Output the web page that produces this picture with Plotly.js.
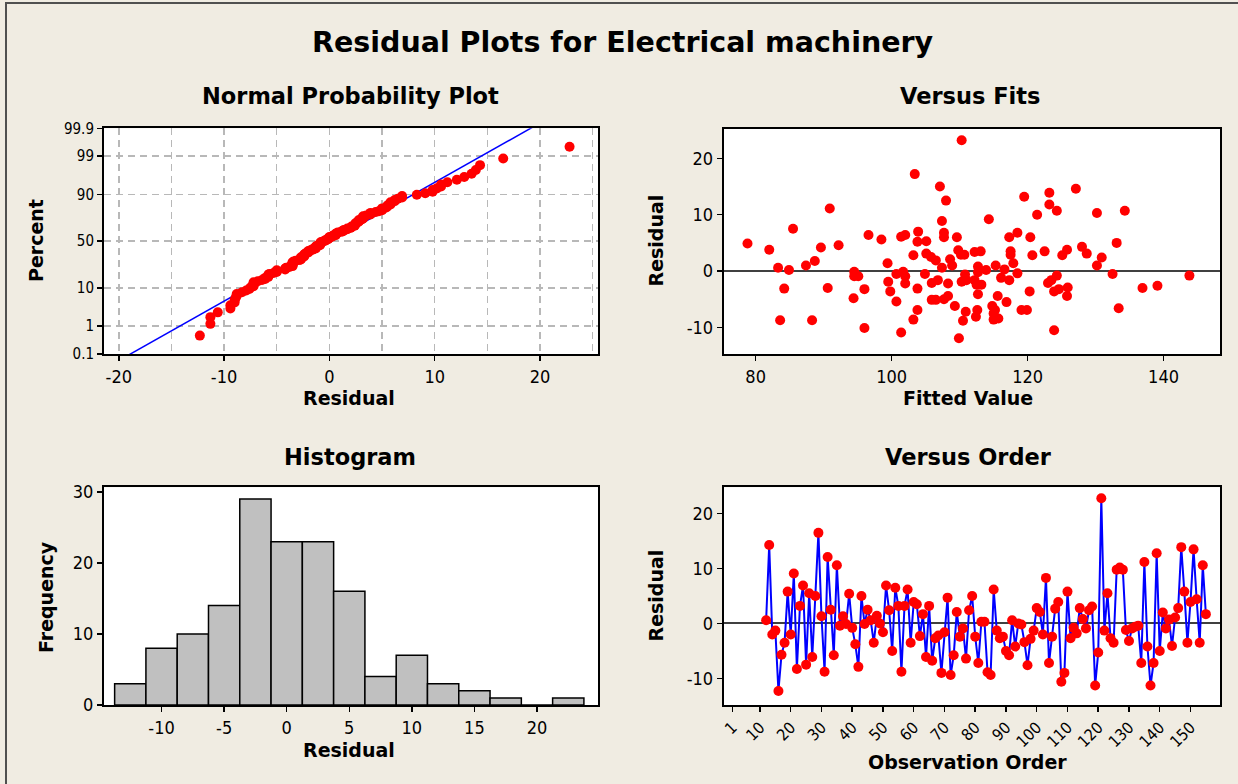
<!DOCTYPE html>
<html>
<head>
<meta charset="utf-8">
<script src="https://cdn.plot.ly/plotly-3.0.1.min.js"></script>
<style>
html,body{margin:0;padding:0;background:#F0ECE2;}
#chart{width:1238px;height:784px;}
</style>
</head>
<body>
<div id="chart"></div>
<script>
// ---------- data ----------
const firstObservation = 12;
const orderResiduals = [
  0.6, 14.3, -2.0, -1.3, -12.3, -5.7, -3.5, 5.8, -2.0,
  9.1, -8.3, 3.2, 6.9, -7.5, 5.5, -6.1, 5.0, 16.5, 1.3,
  -8.8, 12.1, 2.5, -5.8, 10.6, -0.4, 1.3, -0.1, 5.4, -0.8,
  -3.8, -7.9, 5.0, -0.1, 2.5, 0.6, -3.5, 1.4, 0.0, -1.6,
  6.9, 2.4, -5.0, 6.5, 3.2, -8.8, 3.2, 6.2, -3.5, 3.9,
  3.5, -2.3, 1.7, -6.1, 3.2, -6.8, -2.7, -2.2, -9.0, -1.6,
  4.7, -9.4, -5.8, 2.1, -2.4, -0.9, -6.4, 2.4, 5.0, -2.4,
  -7.2, 0.3, 0.3, -8.9, -9.4, 6.2, -1.3, -2.7, -2.4, -5.0,
  -5.8, 0.6, -4.2, 0.0, -0.2, -3.4, -7.6, -2.8, -1.3, 2.8,
  2.1, -2.0, 8.3, -7.2, -2.4, 2.7, 3.9, -10.6, -9.0, 5.8,
  -2.7, -0.8, -1.8, 2.8, 0.8, -0.9, 2.4, 3.1, -11.3, -5.3,
  22.8, -1.3, 5.5, -2.7, -3.5, 9.8, 10.2, 9.8, -1.2, -3.2,
  -0.9, -0.6, -0.4, -7.2, 11.2, -4.2, -11.3, -7.2, 12.8, -5.0,
  2.0, -0.9, 0.7, -4.1, 1.1, 2.8, 13.9, 5.8, -3.5, 3.9,
  13.5, 4.4, -3.5, 10.6, 1.7
];

const fittedValues = [
  78.8, 82.0, 83.3, 84.9, 84.2, 83.6, 85.5, 87.4, 88.7, 89.6,
  88.3, 90.9, 90.6, 92.2, 94.5, 94.5, 95.1, 94.4, 96.0, 96.0,
  96.6, 98.5, 99.4, 99.5, 99.8, 100.7, 100.7, 101.4, 102.0, 101.7,
  102.0, 102.0, 101.4, 103.2, 103.2, 103.4, 103.9, 103.8, 103.8, 103.8,
  110.3, 107.1, 108.0, 114.3, 107.4, 105.1, 107.7, 107.7, 109.6, 105.1,
  105.8, 106.5, 107.4, 108.6, 108.9, 109.8, 110.2, 110.7, 112.2, 113.1,
  112.7, 112.7, 113.9, 115.3, 116.6, 117.3, 118.5, 120.4, 117.5, 117.5,
  117.9, 118.5, 104.9, 105.9, 106.8, 108.3, 110.8, 111.0, 110.3, 112.2,
  112.5, 113.2, 112.7, 116.1, 117.3, 105.9, 106.5, 107.7, 108.3, 109.3,
  110.9, 110.5, 112.6, 112.4, 114.8, 115.6, 115.2, 115.0, 115.0, 115.7,
  116.9, 119.1, 119.9, 109.9, 120.3, 119.5, 121.4, 120.7, 122.5, 123.2,
  123.2, 124.3, 123.0, 123.5, 124.3, 123.9, 124.6, 125.9, 125.8, 123.9,
  125.1, 125.8, 127.1, 128.0, 128.7, 130.2, 130.2, 130.9, 132.5, 133.1,
  133.4, 134.3, 136.9, 139.1, 143.8
];
const fittedResiduals = [
  4.9, 3.8, 0.6, 0.2, -3.1, -8.7, 7.5, 1.0, 1.8, 4.2,
  -8.7, 11.1, -3.0, 4.6, -0.1, -0.9, -0.9, -4.8, -3.2, -10.1,
  6.4, 5.6, 1.4, -1.9, -3.6, -5.4, -0.5, 6.1, 6.4, -0.1,
  -0.9, -2.2, -10.9, -8.6, 2.8, 17.2, 7.0, 5.2, -3.1, -6.9,
  23.2, 15.0, 12.5, 9.2, 8.9, 5.3, 6.8, 6.0, 6.0, 3.1,
  2.5, 1.9, 0.6, 2.1, 1.0, 3.7, 2.9, 2.9, 3.4, 3.5,
  0.8, -0.2, 0.2, 1.0, 0.3, 6.0, 6.8, 6.0, 3.5, 2.9,
  1.4, -0.4, -0.5, -2.1, -1.6, -2.2, -0.6, -1.6, -1.9, -1.6,
  -2.4, -2.4, -4.1, -1.2, -1.6, -5.1, -5.1, -5.0, -4.4, -6.2,
  -7.2, -8.8, -6.9, -8.1, -6.2, -4.4, -6.9, -7.5, -8.6, -8.4,
  -5.5, -6.9, -6.9, -11.9, -3.6, 13.2, 10.0, 2.8, 3.5, 13.9,
  11.8, 10.7, -2.1, -1.6, -0.8, -3.6, -3.2, -2.9, -4.4, -10.5,
  2.8, 3.8, 14.6, 4.3, 3.1, 10.3, 1.0, 2.4, -0.5, 5.0,
  -6.6, 10.7, -3.0, -2.6, -0.8
];

const histCenters = [-12.5, -10, -7.5, -5, -2.5, 0, 2.5, 5, 7.5, 10, 12.5, 15, 17.5, 20, 22.5];
const histCounts  = [3, 8, 10, 14, 29, 23, 23, 16, 4, 7, 3, 2, 1, 0, 1];
const histBinWidth = 2.5;

const percentTicks  = [0.1, 1, 10, 50, 90, 99, 99.9];
const percentLabels = ['0.1', '1', '10', '50', '90', '99', '99.9'];

const probXTicks = [-20, -10, 0, 10, 20];
const probXLabels = ['-20', '-10', '0', '10', '20'];
const probXMinorGrid = [-15, -5, 5, 15, 25];
const residTicks = [-10, 0, 10, 20];
const residLabels = ['-10', '0', '10', '20'];
const fitTicks = [80, 100, 120, 140];
const fitLabels = ['80', '100', '120', '140'];
const histXTicks = [-10, -5, 0, 5, 10, 15, 20];
const histXLabels = ['-10', '-5', '0', '5', '10', '15', '20'];
const freqTicks = [0, 10, 20, 30];
const orderTicks = [1, 10, 20, 30, 40, 50, 60, 70, 80, 90, 100, 110, 120, 130, 140, 150];

// ---------- helpers ----------
function invNorm(p){
  const a=[-3.969683028665376e+01,2.209460984245205e+02,-2.759285104469687e+02,1.383577518672690e+02,-3.066479806614716e+01,2.506628277459239e+00];
  const b=[-5.447609879822406e+01,1.615858368580409e+02,-1.556989798598866e+02,6.680131188771972e+01,-1.328068155288572e+01];
  const c=[-7.784894002430293e-03,-3.223964580411365e-01,-2.400758277161838e+00,-2.549732539343734e+00,4.374664141464968e+00,2.938163982698783e+00];
  const d=[7.784695709041462e-03,3.224671290700398e-01,2.445134137142996e+00,3.754408661907416e+00];
  const pl=0.02425, ph=1-pl; let q, r;
  if(p<pl){q=Math.sqrt(-2*Math.log(p));return (((((c[0]*q+c[1])*q+c[2])*q+c[3])*q+c[4])*q+c[5])/((((d[0]*q+d[1])*q+d[2])*q+d[3])*q+1);}
  if(p<=ph){q=p-0.5;r=q*q;return (((((a[0]*r+a[1])*r+a[2])*r+a[3])*r+a[4])*r+a[5])*q/(((((b[0]*r+b[1])*r+b[2])*r+b[3])*r+b[4])*r+1);}
  q=Math.sqrt(-2*Math.log(1-p));return -(((((c[0]*q+c[1])*q+c[2])*q+c[3])*q+c[4])*q+c[5])/((((d[0]*q+d[1])*q+d[2])*q+d[3])*q+1);
}
const W = 1238, H = 784;
const px = v => v / W;
const py = v => 1 - v / H;

const FONT = '"DejaVu Sans Condensed", "DejaVu Sans", sans-serif';
const TITLE_FONT = '"DejaVu Sans", sans-serif';
const RED = '#FF0000', BLUE = '#0000FF';

// normal probability data derived from residuals
const n = orderResiduals.length;
const sorted = orderResiduals.slice().sort((a, b) => a - b);
const probZ = sorted.map((v, i) => invNorm((i + 1 - 0.3) / (n + 0.4)));
const mean = orderResiduals.reduce((s, v) => s + v, 0) / n;
const sd = Math.sqrt(orderResiduals.reduce((s, v) => s + (v - mean) * (v - mean), 0) / (n - 1));
const zTop = invNorm(0.999), zBot = invNorm(0.001);
const lineZ = [zBot - 0.3, zTop + 0.3];
const lineX = lineZ.map(z => mean + z * sd);

const obs = orderResiduals.map((v, i) => firstObservation + i);

// ---------- traces ----------
const traces = [
  {type:'scatter', mode:'lines', x: lineX, y: lineZ, xaxis:'x', yaxis:'y',
   line:{color:BLUE, width:1.5}, hoverinfo:'skip'},
  {type:'scatter', mode:'markers', x: sorted, y: probZ, xaxis:'x', yaxis:'y',
   marker:{color:RED, size:10, line:{width:0}}},
  {type:'scatter', mode:'markers', x: fittedValues, y: fittedResiduals, xaxis:'x2', yaxis:'y2',
   marker:{color:RED, size:10, line:{width:0}}},
  {type:'bar', x: histCenters, y: histCounts, width: histBinWidth, xaxis:'x3', yaxis:'y3',
   marker:{color:'#C0C0C0', line:{color:'#000', width:1.5}}},
  {type:'scatter', mode:'lines+markers', x: obs, y: orderResiduals, xaxis:'x4', yaxis:'y4',
   line:{color:BLUE, width:2}, marker:{color:RED, size:10, line:{width:0}}}
];

// ---------- axes ----------
const base = () => ({
  showline:true, mirror:true, linecolor:'#000', linewidth:2,
  ticks:'outside', ticklen:5, tickwidth:1.5, tickcolor:'#000',
  showgrid:false, zeroline:false, fixedrange:true,
  tickfont:{family:FONT, size:18, color:'#000'}, tickmode:'array'
});
const GRID = '#B8B8B8';

const layout = {
  width: W, height: H,
  margin:{l:0, r:0, t:0, b:0},
  paper_bgcolor:'#F0ECE2', plot_bgcolor:'#FFFFFF',
  showlegend:false, bargap:0,
  xaxis: Object.assign(base(), {
    domain:[px(104), px(598)], range:[-21.4, 25.5], anchor:'y',
    tickvals: probXTicks, ticktext: probXLabels,
    showgrid:true, gridcolor:GRID, gridwidth:1.5, griddash:'7px,5px',
    minor:{tickmode:'array', tickvals: probXMinorGrid, showgrid:true, gridcolor:GRID, gridwidth:1.5, griddash:'7px,5px', ticks:''}
  }),
  yaxis: Object.assign(base(), {
    domain:[py(354), py(128.3)], range:[zBot, zTop], anchor:'x',
    tickvals: percentTicks.map(p => invNorm(p / 100)), ticktext: percentLabels,
    showgrid:true, gridcolor:GRID, gridwidth:1.5, griddash:'7px,5px',
    tickfont:{family:FONT, size:15, color:'#000'}
  }),
  xaxis2: Object.assign(base(), {
    domain:[px(723.7), px(1220)], range:[75.3, 148.3], anchor:'y2',
    tickvals: fitTicks, ticktext: fitLabels
  }),
  yaxis2: Object.assign(base(), {
    domain:[py(354), py(129)], range:[-14.7, 25.2], anchor:'x2',
    tickvals: residTicks, ticktext: residLabels,
    zeroline:true, zerolinecolor:'#404040', zerolinewidth:2
  }),
  xaxis3: Object.assign(base(), {
    domain:[px(104), px(598.3)], range:[-14.6, 24.9], anchor:'y3',
    tickvals: histXTicks, ticktext: histXLabels
  }),
  yaxis3: Object.assign(base(), {
    domain:[py(705), py(487.3)], range:[0, 30.65], anchor:'x3',
    tickvals: freqTicks, ticktext: freqTicks.map(String)
  }),
  xaxis4: Object.assign(base(), {
    domain:[px(723.7), px(1220)], range:[-1.8, 159.6], anchor:'y4',
    tickvals: orderTicks, ticktext: orderTicks.map(String), tickangle:-45,
    tickfont:{family:FONT, size:16, color:'#000'}
  }),
  yaxis4: Object.assign(base(), {
    domain:[py(705), py(487.3)], range:[-14.85, 24.8], anchor:'x4',
    tickvals: residTicks, ticktext: residLabels,
    zeroline:true, zerolinecolor:'#404040', zerolinewidth:2
  }),
  shapes:[
    {type:'rect', xref:'paper', yref:'paper', x0:px(6), x1:1.02, y0:-0.02, y1:py(3),
     line:{color:'#505050', width:2}, fillcolor:'rgba(0,0,0,0)', layer:'below'}
  ],
  annotations: []
};

function label(text, x, y, size, angle){
  layout.annotations.push({
    text, x:px(x), y:py(y), xref:'paper', yref:'paper',
    xanchor:'center', yanchor:'middle', showarrow:false,
    textangle: angle || 0,
    font:{family:TITLE_FONT, size, color:'#000', weight:'bold'}
  });
}
label('Residual Plots for Electrical machinery', 623, 43, 28.5);
label('Normal Probability Plot', 350, 96, 22.5);
label('Versus Fits', 970, 96, 22.5);
label('Histogram', 350, 457, 22.5);
label('Versus Order', 968, 457, 22.5);
label('Residual', 349, 398, 19);
label('Percent', 36, 241, 19, -90);
label('Fitted Value', 968, 398, 19);
label('Residual', 655.5, 241, 19, -90);
label('Residual', 349, 750, 19);
label('Frequency', 46, 597, 19, -90);
label('Observation Order', 967, 762, 19);
label('Residual', 655.5, 596, 19, -90);

Plotly.newPlot('chart', traces, layout, {displayModeBar:false, staticPlot:true});
</script>
</body>
</html>
